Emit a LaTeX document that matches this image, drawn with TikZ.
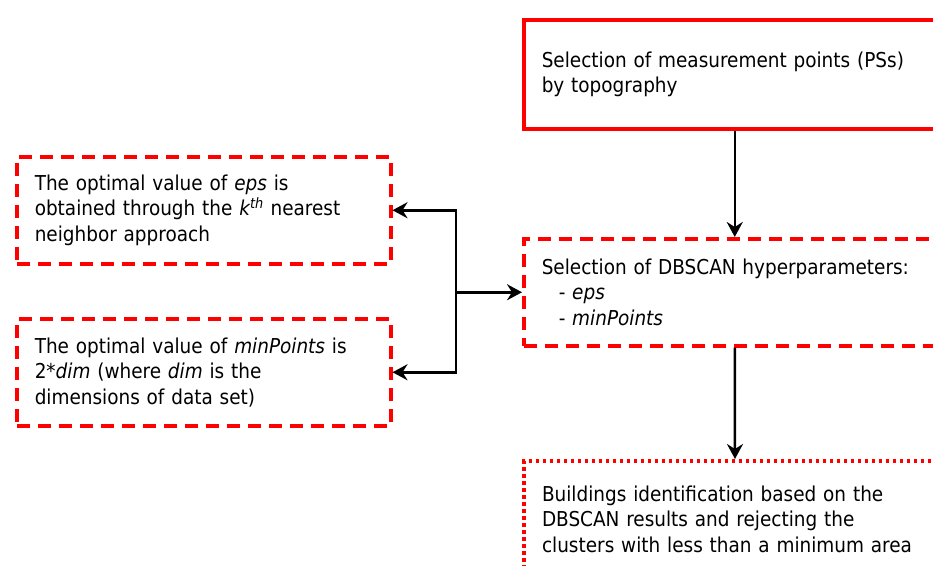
\documentclass[tikz,border=0pt]{standalone}
\usepackage{fontspec}
\setmainfont{DejaVu Sans Condensed}
\usetikzlibrary{arrows.meta}
\begin{document}
\begin{tikzpicture}[x=1pt,y=-1pt,
  box/.style={draw=red, line width=3.5pt, inner xsep=18pt, inner ysep=0pt,
    align=left, anchor=north west, font=\fontsize{20.5}{25.5}\selectfont},
  dashbox/.style={box, dash pattern=on 13pt off 8pt},
  dotbox/.style={box, line width=4pt, dash pattern=on 3.5pt off 3.5pt},
  arr/.style={line width=2.5pt, -{Stealth[length=15pt,width=16pt,inset=5pt]}}]
\useasboundingbox (0,0) rectangle (933,565);
\clip (0,0) rectangle (933,565);
% right column: main processing chain
\node[box, text width=386pt, minimum height=109pt] (top) at (522,18)
  {Selection of measurement points (PSs)\\by topography};
\node[dashbox, text width=386pt, minimum height=107pt] (mid) at (522,237)
  {Selection of DBSCAN hyperparameters:\\
   \hspace*{17pt}- \textit{eps}\\
   \hspace*{17pt}- \textit{minPoints}};
\node[dotbox, text width=386pt, minimum height=116pt] (res) at (522,459)
  {Buildings identification based on the\\
   DBSCAN results and rejecting the\\
   clusters with less than a minimum area};
% left column: how the hyperparameters are chosen
\node[dashbox, text width=338pt, minimum height=107pt] (eps) at (15,155)
  {The optimal value of \textit{eps} is\\
   obtained through the \textit{k\textsuperscript{th}} nearest\\
   neighbor approach};
\node[dashbox, text width=338pt, minimum height=107pt] (minp) at (15,317)
  {The optimal value of \textit{minPoints} is\\
   2*\textit{dim} (where \textit{dim} is the\\
   dimensions of data set)};
% connectors
\coordinate (j) at (456,0 |- mid.west);
\draw[arr] (top.south) -- (mid.north);
\draw[arr] (mid.south) -- (res.north);
\draw[arr] (j) -- (mid.west);
\draw[arr] (j) |- (eps.east);
\draw[arr] (j) |- (minp.east);
\end{tikzpicture}
\end{document}
